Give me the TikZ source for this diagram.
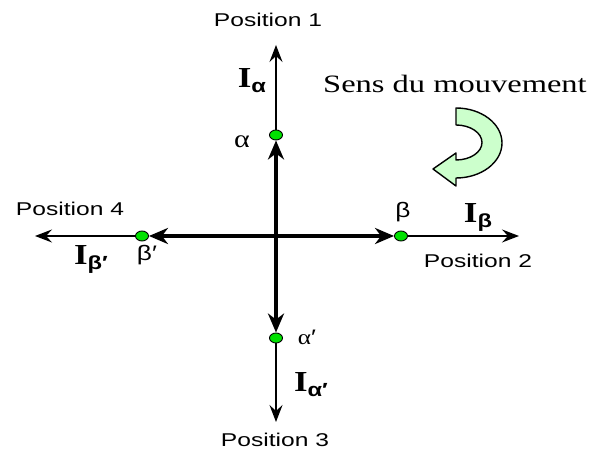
\documentclass[tikz,border=0pt]{standalone}
\usepackage{fontspec}
\newfontfamily\possans{Liberation Sans}[FakeStretch=1.33]
\newfontfamily\sensserif{Liberation Serif}[FakeStretch=1.3]
\newfontfamily\grksans{Liberation Sans}[FakeStretch=1.25]
\newfontfamily\grkserif{Liberation Serif}[FakeStretch=1.2]
\definecolor{dotgreen}{RGB}{0,225,0}
\definecolor{curlgreen}{RGB}{204,255,204}
\usetikzlibrary{arrows.meta,shapes.geometric}
\newcommand{\curI}[1]{{\grkserif\bfseries I}\raisebox{-5pt}{\fontsize{19}{19}\selectfont\grksans\bfseries #1}}

\begin{document}
\begin{tikzpicture}[x=1pt, y=1pt,
  posnode/.style={anchor=base, font=\fontsize{18.5}{22}\selectfont\possans},
  grklbl/.style={anchor=base, font=\fontsize{25}{28}\selectfont\grkserif},
  grklbls/.style={anchor=base, font=\fontsize{21}{24}\selectfont\grksans},
  curlbl/.style={anchor=base, font=\fontsize{29}{32}\selectfont},
  contact/.style={ellipse, draw=black, line width=0.9pt, fill=dotgreen,
    minimum width=13pt, minimum height=10pt, inner sep=0pt},
  thinax/.style={-{Stealth[length=17pt, width=13pt, inset=6pt]}, line width=1.2pt},
  thickax/.style={-{Stealth[length=19pt, width=16pt, inset=6pt]}, line width=4pt}
]
\useasboundingbox (0,0) rectangle (598,452);

\coordinate (o) at (276,216);
\coordinate (atip) at (276,407);
\coordinate (btip) at (519,216);
\coordinate (aptip) at (276,30);
\coordinate (bptip) at (35,216);

\node[contact] (adot)  at (276,317) {};
\node[contact] (bdot)  at (401,216) {};
\node[contact] (apdot) at (276,114) {};
\node[contact] (bpdot) at (142,216) {};

% currents
\draw[thinax] (adot) -- (atip);
\draw[thinax] (bdot) -- (btip);
\draw[thinax] (apdot) -- (aptip);
\draw[thinax] (bpdot) -- (bptip);

% windings
\draw[thickax] (o) -- (adot);
\draw[thickax] (o) -- (bdot);
\draw[thickax] (o) -- (apdot);
\draw[thickax] (o) -- (bpdot);

\node[posnode] (pos1) at (268,425) {Position 1};
\node[posnode] (pos2) at (478,184) {Position 2};
\node[posnode] (pos3) at (275,5)   {Position 3};
\node[posnode] (pos4) at (70,236)  {Position 4};

\node[grklbl]  (lalpha)  at (242,304) {α};
\node[grklbls] (lbeta)   at (403,234) {β};
\node[grklbls] (lalphap) at (307,107) {{\grkserif α}′};
\node[grklbls] (lbetap)  at (147,191) {β′};

\node[curlbl] (ialpha)  at (252,364) {\curI{α}};
\node[curlbl] (ibeta)   at (478,229) {\curI{β}};
\node[curlbl] (ialphap) at (311,60)  {\curI{α′}};
\node[curlbl] (ibetap)  at (91,187)  {\curI{β′}};

\node[anchor=base, font=\fontsize{25}{28}\selectfont\sensserif] (sens) at (455,359) {Sens du mouvement};

% curved arrow
\draw[line width=1.4pt, fill=curlgreen, line join=round]
  (456,344) arc[start angle=90, end angle=-90, x radius=46, y radius=35]
  -- (456,266) -- (433,283) -- (456,299) -- (456,292)
  arc[start angle=-90, end angle=90, x radius=26, y radius=17.5] -- cycle;
\end{tikzpicture}
\end{document}
